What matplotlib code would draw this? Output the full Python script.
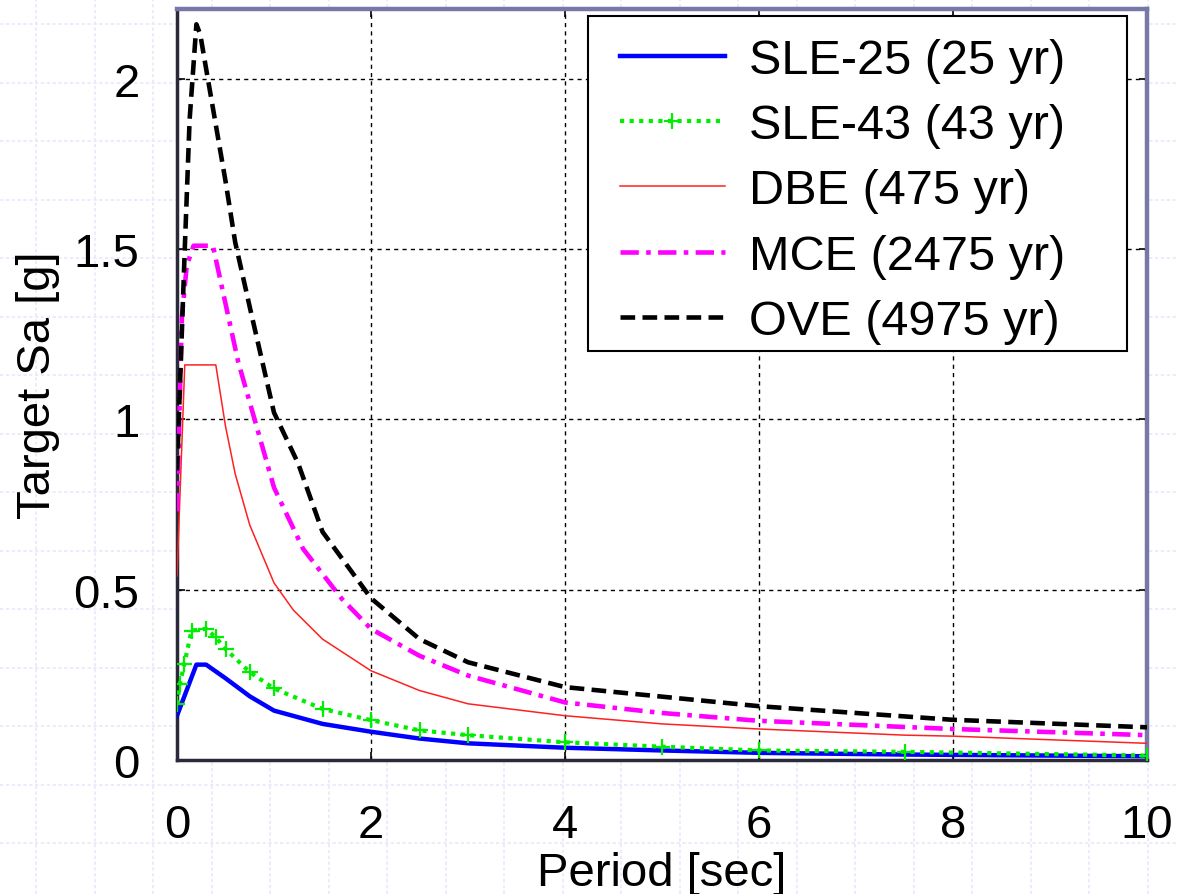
import numpy as np
import matplotlib
matplotlib.use("Agg")
import matplotlib.pyplot as plt
from matplotlib.patches import Rectangle

plt.rcParams['font.family'] = ['Liberation Sans', 'DejaVu Sans']

# ---- data ----
labels = ["SLE-25 (25 yr)", "SLE-43 (43 yr)", "DBE (475 yr)", "MCE (2475 yr)", "OVE (4975 yr)"]

T_sle25 = [0, 0.2, 0.3, 0.5, 0.75, 1.0, 1.5, 2.0, 2.5, 3.0, 4.0, 5.0, 6.0, 7.5, 10.0]
Sa_sle25 = [0.13, 0.28, 0.28, 0.24, 0.187, 0.145, 0.106, 0.083, 0.063, 0.049, 0.036, 0.028, 0.021, 0.016, 0.011]

T_sle43 = [0, 0.03, 0.075, 0.15, 0.3, 0.4, 0.5, 0.75, 1.0, 1.5, 2.0, 2.5, 3.0, 4.0, 5.0, 6.0, 7.5, 10.0]
Sa_sle43 = [0.164, 0.223, 0.282, 0.38, 0.385, 0.36, 0.326, 0.258, 0.21, 0.15, 0.117, 0.087, 0.073, 0.052, 0.039, 0.028, 0.024, 0.013]

T_dbe = [0, 0.08, 0.4, 0.5, 0.6, 0.75, 1.0, 1.2, 1.5, 2.0, 2.5, 3.0, 4.0, 5.0, 6.0, 7.5, 8.0, 10.0]
Sa_dbe = [0.54, 1.16, 1.16, 0.98, 0.84, 0.69, 0.52, 0.44, 0.355, 0.262, 0.204, 0.165, 0.13, 0.106, 0.091, 0.073, 0.070, 0.049]

T_mce = [0, 0.05, 0.1, 0.17, 0.37, 0.5, 0.63, 0.8, 1.0, 1.3, 1.7, 2.0, 2.5, 3.0, 4.0, 5.0, 6.0, 8.0, 10.0]
Sa_mce = [0.73, 1.3, 1.45, 1.51, 1.51, 1.34, 1.17, 1.0, 0.80, 0.62, 0.473, 0.385, 0.306, 0.248, 0.169, 0.138, 0.115, 0.091, 0.073]

T_ove = [0, 0.08, 0.13, 0.2, 0.24, 0.3, 0.5, 0.6, 0.75, 1.0, 1.25, 1.5, 2.0, 2.5, 3.0, 4.0, 5.0, 6.0, 8.0, 10.0]
Sa_ove = [0.85, 1.5, 1.88, 2.16, 2.13, 2.03, 1.70, 1.52, 1.33, 1.02, 0.87, 0.67, 0.475, 0.355, 0.287, 0.214, 0.186, 0.158, 0.118, 0.096]

xticks = [0, 2, 4, 6, 8, 10]
xticklabels = ["0", "2", "4", "6", "8", "10"]
yticks = [0, 0.5, 1, 1.5, 2]
yticklabels = ["0", "0.5", "1", "1.5", "2"]

W, H = 1177, 895
fig = plt.figure(figsize=(W / 100, H / 100), dpi=100)
fig.patch.set_facecolor('white')

# graph-paper background
bg = fig.add_axes([0, 0, 1, 1], zorder=-5)
bg.set_xlim(0, W)
bg.set_ylim(H, 0)
bg.axis('off')
for xv in np.arange(36, W, 58.5):
    bg.axvline(xv, color='#e6eaf8', lw=1.2, ls=(0, (2, 1.5)))
for yv in np.arange(727 - 58.5 * 13, H, 58.5):
    bg.axhline(yv, color='#e6eaf8', lw=1.2, ls=(0, (2, 1.5)))

ax = fig.add_axes([177 / W, 1 - 761 / H, 970 / W, 751 / H])
ax.set_facecolor('white')

ax.plot(T_sle25, Sa_sle25, color='#0000ff', lw=3.2, ls='-', label=labels[0], zorder=5)
ax.plot(T_sle43, Sa_sle43, color='#00ee00', lw=3.0, ls=(0, (1, 1.3)), marker='+',
        markersize=11, markeredgewidth=1.6, label=labels[1], zorder=6)
ax.plot(T_dbe, Sa_dbe, color='#ff2020', lw=1.1, ls='-', label=labels[2], zorder=4)
ax.plot(T_mce, Sa_mce, color='#ff00ff', lw=3.3, ls=(0, (4, 1.6, 1, 1.6)), label=labels[3], zorder=4)
ax.plot(T_ove, Sa_ove, color='black', lw=3.3, ls=(0, (3.2, 1.6)), label=labels[4], zorder=4)

ax.set_xlim(0, 10)
ax.set_ylim(0, 2.205)
ax.set_xticks(xticks)
ax.set_xticklabels(xticklabels)
ax.set_yticks(yticks)
ax.set_yticklabels(yticklabels)

ax.grid(True, color='black', lw=1.0, ls=(0, (3, 3)))
ax.set_axisbelow(True)

ax.tick_params(axis='both', direction='in', length=6, width=1.2, labelsize=34,
               top=True, right=True)
ax.tick_params(axis='x', pad=31)
ax.tick_params(axis='y', pad=27)

for side in ['left', 'bottom']:
    ax.spines[side].set_color('#2a2a3a')
    ax.spines[side].set_linewidth(2.5)
for side in ['top', 'right']:
    ax.spines[side].set_color('#7878a8')
    ax.spines[side].set_linewidth(3.2)

ax.set_xlabel('Period [sec]', fontsize=34, labelpad=3)
ax.set_ylabel('Target Sa [g]', fontsize=34, labelpad=10)

# legend frame (MATLAB-style, wide right padding)
frame = Rectangle((588 / W, 1 - 352 / H), (1127 - 588) / W, (352 - 17) / H,
                  transform=fig.transFigure, facecolor='white', edgecolor='black',
                  lw=1.5, zorder=9)
ax.add_artist(frame)
frame.set_clip_on(False)

leg = ax.legend(loc='center left', bbox_to_anchor=(620 / W, 1 - 192 / H),
                bbox_transform=fig.transFigure,
                borderaxespad=0, fontsize=35, frameon=False,
                handlelength=2.15, handletextpad=0.5,
                labelspacing=0.42, borderpad=0)
leg.set_zorder(10)

fig.savefig('out.png', dpi=100)
